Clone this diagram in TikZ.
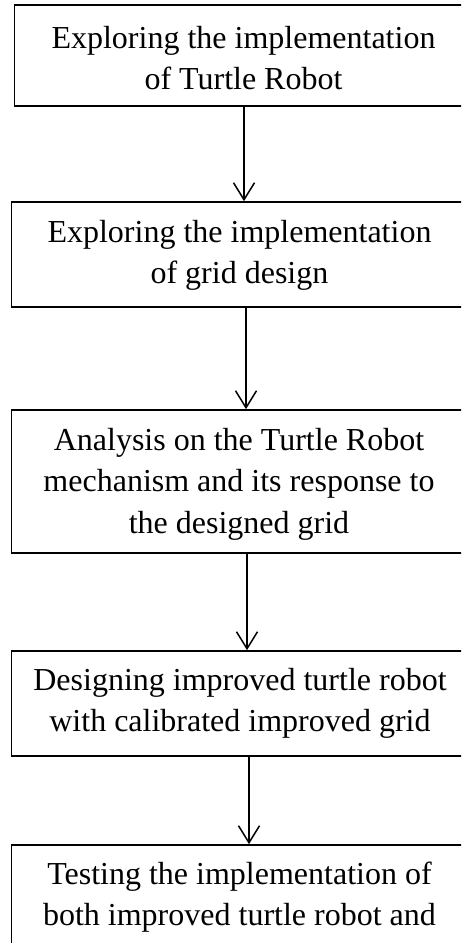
\documentclass[tikz,border=0pt]{standalone}
\usepackage{fontspec}
\setmainfont{Liberation Serif}
\usetikzlibrary{arrows.meta}

\begin{document}
\begin{tikzpicture}[x=1pt, y=-1pt,
  stagebox/.style={draw=black, line width=1.7pt, rectangle, inner sep=0pt},
  stagetext/.style={align=center, inner sep=0pt,
    font=\fontsize{32}{41.5}\selectfont},
  flow/.style={draw=black, line width=1.5pt,
    -{Straight Barb[length=17pt, width=21pt, line width=1.5pt]}}
]
\useasboundingbox (0,0) rectangle (461,943);
\clip (0,0) rectangle (461,943);

% process stages (boxes run past the right and bottom edge of the page)
\node[stagebox, minimum width=459pt, minimum height=101pt] (b1) at (244,55.5) {};
\node[stagebox, minimum width=469pt, minimum height=105pt] (b2) at (246,254.5) {};
\node[stagebox, minimum width=471pt, minimum height=143pt] (b3) at (247,481.5) {};
\node[stagebox, minimum width=475pt, minimum height=105pt] (b4) at (249,703.5) {};
\node[stagebox, minimum width=479pt, minimum height=200pt] (b5) at (251,945) {};

% stage descriptions
\node[stagetext] (t1) at (243.5,60.8)
  {\strut Exploring the implementation\\\strut of Turtle Robot};
\node[stagetext] (t2) at (239.5,254.5)
  {\strut Exploring the implementation\\\strut of grid design};
\node[stagetext] (t3) at (239,483.2)
  {\strut Analysis on the Turtle Robot\\\strut mechanism and its response to\\\strut the designed grid};
\node[stagetext] (t4) at (240,702.5)
  {\strut Designing improved turtle robot\\\strut with calibrated improved grid};
\node[stagetext] (t5) at (239.5,896.5)
  {\strut Testing the implementation of\\\strut both improved turtle robot and};

% connectors between stages
\draw[flow] (b1.south) -- (b1.south |- b2.north);
\draw[flow] (b2.south) -- (b2.south |- b3.north);
\draw[flow] (b3.south) -- (b3.south |- b4.north);
\draw[flow] (b4.south) -- (b4.south |- b5.north);
\end{tikzpicture}
\end{document}
